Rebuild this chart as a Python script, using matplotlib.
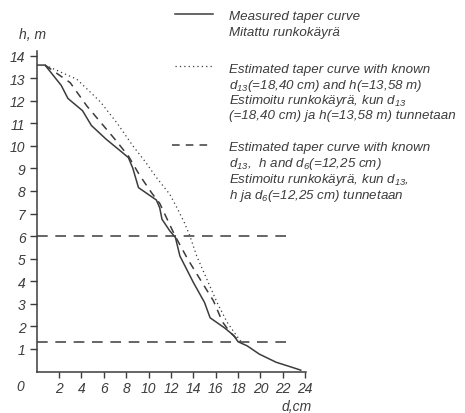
import matplotlib
matplotlib.use("Agg")
import matplotlib.pyplot as plt
from matplotlib.lines import Line2D

# mitattu runkokäyrä (d cm, h m)
mitattu_d = [0.0, 0.75, 2.2, 2.8, 4.1, 4.9, 6.2, 7.5, 8.2, 8.6, 9.1, 10.7, 11.0,
             11.2, 11.9, 12.4, 12.8, 14.0, 15.0, 15.5, 16.8, 17.6, 18.0, 18.8,
             19.9, 21.4, 22.8, 23.6]
mitattu_h = [13.58, 13.58, 12.68, 12.1, 11.56, 10.9, 10.3, 9.77, 9.48, 9.0, 8.15,
             7.6, 7.25, 6.75, 6.23, 5.94, 5.12, 3.95, 3.06, 2.38, 1.93, 1.6, 1.32,
             1.14, 0.77, 0.41, 0.19, 0.06]

# estimoitu, d13 ja h tunnetaan
est1_d = [0.75, 3.6, 5.7, 7.2, 8.6, 9.7, 10.7, 11.9, 12.6, 13.2, 13.7, 14.3,
          15.2, 16.1, 17.0, 17.7, 18.3]
est1_h = [13.58, 12.95, 11.95, 11.0, 10.0, 9.3, 8.6, 7.85, 7.2, 6.6, 6.0, 5.12,
          4.1, 3.08, 2.2, 1.7, 1.3]

# estimoitu, d13, h ja d6 tunnetaan
est2_d = [0.75, 3.0, 4.5, 7.0, 8.2, 9.2, 10.3, 11.0, 11.9, 12.4, 13.5, 14.6,
          15.8, 16.6, 17.3, 18.2]
est2_h = [13.58, 12.8, 11.76, 10.29, 9.55, 8.7, 7.9, 7.45, 6.5, 5.98, 4.98,
          4.09, 3.13, 2.2, 1.73, 1.3]

viivat_h = [6.0, 1.3]
xtiks = list(range(2, 25, 2))
ytiks = list(range(1, 15))

vari = "#3c3c3c"
plt.rcParams['font.family'] = ['Liberation Sans', 'DejaVu Sans']
plt.rcParams['font.style'] = 'italic'
plt.rcParams['mathtext.fontset'] = 'custom'
plt.rcParams['mathtext.it'] = 'Liberation Sans:italic'
plt.rcParams['mathtext.rm'] = 'Liberation Sans'
plt.rcParams['mathtext.default'] = 'it'

fig = plt.figure(figsize=(4.65, 4.14), dpi=100)
ax = fig.add_axes([0.0787, 0.1002, 0.579, 0.774])

ax.plot(mitattu_d, mitattu_h, color=vari, lw=1.1)
ax.plot(est1_d, est1_h, color=vari, lw=0.9, linestyle=(0, (1, 2.5)))
ax.plot(est2_d, est2_h, color=vari, lw=1.1, linestyle=(0, (5, 4)))
for h in viivat_h:
    ax.plot([0, 22.5], [h, h], color=vari, lw=1.1, linestyle=(0, (7, 5)))

ax.set_xlim(0, 24.05)
ax.set_ylim(0, 14.2)
ax.spines['top'].set_visible(False)
ax.spines['right'].set_visible(False)
for s in ['left', 'bottom']:
    ax.spines[s].set_color(vari)
    ax.spines[s].set_linewidth(1.1)
ax.set_xticks(xtiks)
ax.set_yticks(ytiks)
ax.set_xticklabels([str(t) for t in xtiks], fontsize=10, style='italic', color=vari)
ax.set_yticklabels([str(t) for t in ytiks], fontsize=10, style='italic', color=vari)
ax.tick_params(axis='x', direction='out', length=4, width=1, color=vari, pad=3)
ax.tick_params(axis='y', direction='out', length=5, width=1, color=vari, pad=3)

ax.text(-1.5, -0.65, "0", fontsize=10, style='italic', color=vari,
        ha='center', va='center')
fig.text(0.04, 0.915, "h, m", fontsize=10, style='italic', color=vari,
         ha='left', va='center')
fig.text(0.606, 0.016, "d,cm", fontsize=10, style='italic', color=vari,
         ha='left', va='center')

# selite
tx = 0.492
fs = 9.6
fig.add_artist(Line2D([0.376, 0.458], [0.963, 0.963], color=vari, lw=1.1))
fig.text(tx, 0.96, "Measured taper curve", fontsize=fs, color=vari, va='center')
fig.text(tx, 0.92, "Mitattu runkokäyrä", fontsize=fs, color=vari, va='center')

fig.add_artist(Line2D([0.376, 0.458], [0.838, 0.838], color=vari, lw=0.9,
                      linestyle=(0, (1, 2.5))))
fig.text(tx, 0.831, "Estimated taper curve with known", fontsize=fs, color=vari, va='center')
fig.text(tx, 0.792, "d$_{13}$(=18,40 cm) and h(=13,58 m)", fontsize=fs, color=vari, va='center')
fig.text(tx, 0.756, "Estimoitu runkokäyrä, kun d$_{13}$", fontsize=fs, color=vari, va='center')
fig.text(tx, 0.721, "(=18,40 cm) ja h(=13,58 m) tunnetaan", fontsize=fs, color=vari, va='center')

fig.add_artist(Line2D([0.37, 0.458], [0.648, 0.648], color=vari, lw=1.1,
                      linestyle=(0, (5, 4))))
fig.text(tx, 0.643, "Estimated taper curve with known", fontsize=fs, color=vari, va='center')
fig.text(tx, 0.603, "d$_{13}$,  h and d$_6$(=12,25 cm)", fontsize=fs, color=vari, va='center')
fig.text(tx, 0.566, "Estimoitu runkokäyrä, kun d$_{13}$,", fontsize=fs, color=vari, va='center')
fig.text(tx, 0.527, "h ja d$_6$(=12,25 cm) tunnetaan", fontsize=fs, color=vari, va='center')

fig.savefig("out.png", dpi=100, facecolor='white')
